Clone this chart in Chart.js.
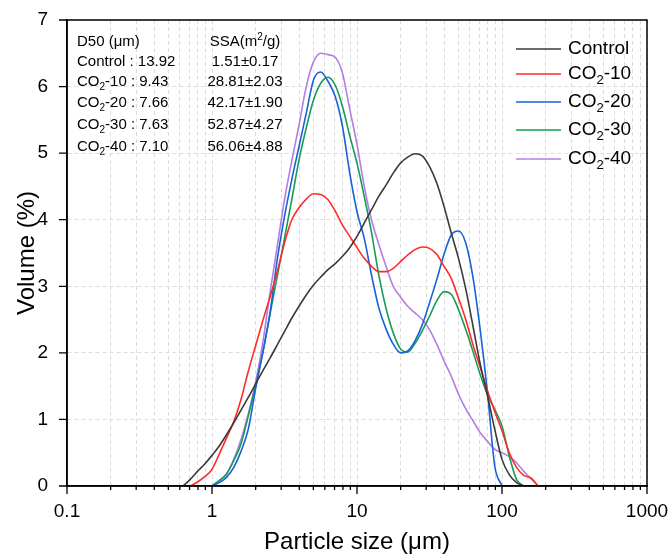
<!DOCTYPE html>
<html>
<head>
<meta charset="utf-8">
<script src="https://cdn.jsdelivr.net/npm/chart.js@4.4.0/dist/chart.umd.min.js"></script>
<style>
html, body { margin: 0; padding: 0; background: #fff; }
#wrap { width: 669px; height: 557px; }
</style>
</head>
<body>
<div id="wrap"><canvas id="psd" width="669" height="557"></canvas></div>
<script>
// particle size bins (um), log spaced
var sizes = [0.631, 0.708, 0.794, 0.891, 1.000, 1.122, 1.259, 1.413, 1.585, 1.778,
  1.995, 2.239, 2.512, 2.818, 3.162, 3.548, 3.981, 4.467, 5.012, 5.623,
  6.310, 7.079, 7.943, 8.913, 10.00, 11.22, 12.59, 14.13, 15.85, 17.78,
  19.95, 22.39, 25.12, 28.18, 31.62, 35.48, 39.81, 44.67, 50.12, 56.23,
  63.10, 70.79, 79.43, 89.13, 100.0, 112.2, 125.9, 141.3, 158.5, 177.8, 199.5];

var control = [0, 0.1, 0.22, 0.33, 0.46, 0.6, 0.77, 0.95, 1.14, 1.33,
  1.53, 1.73, 1.92, 2.12, 2.32, 2.52, 2.7, 2.87, 3.02, 3.14,
  3.25, 3.34, 3.45, 3.58, 3.75, 3.95, 4.15, 4.35, 4.52, 4.7,
  4.85, 4.94, 4.99, 4.96, 4.8, 4.55, 4.2, 3.8, 3.42, 2.96,
  2.4, 1.83, 1.36, 0.85, 0.4, 0.17, 0.05, 0, null, null, null];

var co2_10 = [null, 0, 0.06, 0.14, 0.25, 0.48, 0.72, 0.97, 1.3, 1.72,
  2.1, 2.48, 2.84, 3.22, 3.65, 4.0, 4.18, 4.31, 4.39, 4.38,
  4.3, 4.13, 3.92, 3.75, 3.58, 3.42, 3.3, 3.22, 3.22, 3.27,
  3.37, 3.47, 3.55, 3.59, 3.57, 3.48, 3.3, 3.12, 2.82, 2.5,
  2.12, 1.78, 1.43, 1.12, 0.83, 0.5, 0.28, 0.16, 0.12, 0, null];

var co2_20 = [null, null, null, null, 0, 0.05, 0.13, 0.28, 0.52, 0.85,
  1.45, 2.0, 2.6, 3.4, 4.05, 4.6, 5.1, 5.6, 6.1, 6.22,
  6.08, 5.85, 5.4, 4.7, 4.12, 3.72, 3.17, 2.68, 2.36, 2.13,
  2.0, 2.03, 2.18, 2.42, 2.75, 3.1, 3.48, 3.77, 3.83, 3.65,
  3.13, 2.34, 1.4, 0.3, 0, null, null, null, null, null, null];

var co2_30 = [null, null, null, null, 0, 0.08, 0.18, 0.38, 0.63, 1.05,
  1.5, 2.0, 2.58, 3.15, 3.72, 4.3, 4.9, 5.38, 5.8, 6.05,
  6.14, 6.02, 5.7, 5.26, 4.85, 4.35, 3.81, 3.17, 2.67, 2.3,
  2.06, 2.01, 2.14, 2.33, 2.55, 2.78, 2.92, 2.88, 2.65, 2.35,
  2.02, 1.67, 1.37, 1.15, 0.9, 0.45, 0.1, 0, null, null, null];

var co2_40 = [null, null, null, null, 0, 0.08, 0.18, 0.4, 0.7, 1.08,
  1.55, 2.15, 2.9, 3.6, 4.3, 4.88, 5.42, 6.0, 6.37, 6.5,
  6.48, 6.44, 6.2, 5.66, 5.13, 4.5, 4.0, 3.63, 3.3, 3.0,
  2.84, 2.7, 2.6, 2.5, 2.35, 2.13, 1.88, 1.65, 1.38, 1.16,
  0.98, 0.8, 0.67, 0.55, 0.5, 0.44, 0.35, 0.22, 0.11, 0, null];

var seriesNames = ['Control', 'CO_2-10', 'CO_2-20', 'CO_2-30', 'CO_2-40'];
var seriesColors = ['#3a3a3a', '#ff2a2a', '#1662d6', '#179b55', '#b47de6'];

var d50Values = [13.92, 9.43, 7.66, 7.63, 7.10];
var ssaMean = [1.51, 28.81, 42.17, 52.87, 56.06];
var ssaSd = [0.17, 2.03, 1.90, 4.27, 4.88];

var xLabelValues = [0.1, 1, 10, 100, 1000];
var yTickValues = [0, 1, 2, 3, 4, 5, 6, 7];

// minor grid positions 1..9 per decade
var xGridValues = [];
[0.1, 1, 10, 100].forEach(function (d) {
    for (var k = 1; k <= 9; k++) xGridValues.push(+(k * d).toPrecision(3));
});
xGridValues.push(1000);

var FONT = "'Liberation Sans', Arial, sans-serif";
Chart.defaults.font.family = FONT;
Chart.defaults.color = '#000';

// text with _x subscript and ^x superscript
function richParts(text) {
    var parts = [];
    var buf = '';
    for (var i = 0; i < text.length; i++) {
        var c = text[i];
        if ((c === '_' || c === '^') && i + 1 < text.length) {
            if (buf) parts.push({ t: buf, s: 0 });
            buf = '';
            parts.push({ t: text[i + 1], s: c === '_' ? 1 : -1 });
            i++;
        } else {
            buf += c;
        }
    }
    if (buf) parts.push({ t: buf, s: 0 });
    return parts;
}

function drawRich(ctx, text, x, y, size, align) {
    var parts = richParts(text);
    var small = Math.round(size * 0.68);
    var total = 0;
    parts.forEach(function (p) {
        ctx.font = (p.s ? small : size) + 'px ' + FONT;
        p.w = ctx.measureText(p.t).width;
        total += p.w;
    });
    var cx = align === 'center' ? x - total / 2 : x;
    ctx.textAlign = 'left';
    ctx.textBaseline = 'middle';
    parts.forEach(function (p) {
        ctx.font = (p.s ? small : size) + 'px ' + FONT;
        var dy = p.s === 1 ? size * 0.32 : (p.s === -1 ? -size * 0.32 : 0);
        ctx.fillText(p.t, cx, y + dy);
        cx += p.w;
    });
}

var decor = {
    id: 'decor',
    afterDraw: function (chart) {
        var ctx = chart.ctx;
        var a = chart.chartArea;
        var xs = chart.scales.x, ys = chart.scales.y;
        ctx.save();
        ctx.strokeStyle = '#000';
        ctx.fillStyle = '#000';
        ctx.lineWidth = 1.5;
        ctx.strokeRect(a.left, a.top, a.right - a.left, a.bottom - a.top);

        // outward tick marks
        ctx.lineWidth = 1.3;
        ctx.beginPath();
        xGridValues.forEach(function (v) {
            var px = xs.getPixelForValue(v);
            var len = xLabelValues.indexOf(v) >= 0 ? 8 : 4;
            ctx.moveTo(px, a.bottom);
            ctx.lineTo(px, a.bottom + len);
        });
        yTickValues.forEach(function (v) {
            var py = ys.getPixelForValue(v);
            ctx.moveTo(a.left, py);
            ctx.lineTo(a.left - 8, py);
        });
        ctx.stroke();

        // legend
        var legendRows = [29, 54, 82, 110, 139];
        chart.data.datasets.forEach(function (ds, i) {
            var y = a.top + legendRows[i];
            ctx.strokeStyle = ds.borderColor;
            ctx.lineWidth = 1.6;
            ctx.beginPath();
            ctx.moveTo(a.right - 131, y);
            ctx.lineTo(a.right - 86, y);
            ctx.stroke();
            ctx.fillStyle = '#000';
            drawRich(ctx, seriesNames[i], a.right - 79, y, 19, 'left');
        });

        // D50 / SSA table
        var rows = [22, 42, 62, 83, 105, 127];
        drawRich(ctx, 'D50 (\u03bcm)', a.left + 10, a.top + rows[0], 15, 'left');
        drawRich(ctx, 'SSA(m^2/g)', a.left + 178, a.top + rows[0], 15, 'center');
        for (var i = 0; i < d50Values.length; i++) {
            drawRich(ctx, seriesNames[i] + ' : ' + d50Values[i].toFixed(2), a.left + 10, a.top + rows[i + 1], 15, 'left');
            drawRich(ctx, ssaMean[i].toFixed(2) + '\u00b1' + ssaSd[i].toFixed(2), a.left + 178, a.top + rows[i + 1], 15, 'center');
        }
        ctx.restore();
    }
};

var datasets = [control, co2_10, co2_20, co2_30, co2_40].map(function (vals, i) {
    return {
        label: seriesNames[i].replace('_', ''),
        data: vals,
        borderColor: seriesColors[i],
        backgroundColor: seriesColors[i],
        borderWidth: 1.6,
        pointRadius: 0,
        fill: false,
        tension: 0.3,
        cubicInterpolationMode: 'monotone',
        spanGaps: false
    };
});

var psdChart = new Chart(document.getElementById('psd'), {
    type: 'line',
    data: { labels: sizes, datasets: datasets },
    options: {
        responsive: false,
        animation: false,
        devicePixelRatio: 1,
        layout: { padding: { top: 20, right: 22, left: 0, bottom: 0 } },
        plugins: { legend: { display: false }, tooltip: { enabled: false } },
        scales: {
            x: {
                type: 'logarithmic',
                min: 0.1,
                max: 1000,
                afterBuildTicks: function (scale) {
                    scale.ticks = xGridValues.map(function (v) {
                        return { value: v, major: xLabelValues.indexOf(v) >= 0 };
                    });
                },
                afterFit: function (scale) {
                    scale.height = 71;
                    scale.paddingLeft = 0;
                    scale.paddingRight = 0;
                },
                ticks: {
                    autoSkip: false,
                    maxRotation: 0,
                    padding: 14,
                    font: { size: 19 },
                    callback: function (value) {
                        return xLabelValues.indexOf(value) >= 0 ? String(value) : '';
                    }
                },
                grid: { color: '#dcdcdc', lineWidth: 1, drawTicks: false },
                border: { display: true, color: '#000', width: 1.5, dash: [4, 3] },
                title: { display: true, text: 'Particle size (\u03bcm)', font: { size: 24 }, padding: { top: 0, bottom: 0 } }
            },
            y: {
                type: 'linear',
                min: 0,
                max: 7,
                afterFit: function (scale) {
                    scale.width = 67;
                    scale.paddingTop = 0;
                    scale.paddingBottom = 0;
                },
                ticks: { stepSize: 1, padding: 19, font: { size: 19 } },
                grid: { color: '#dcdcdc', lineWidth: 1, drawTicks: false },
                border: { display: true, color: '#000', width: 1.5, dash: [4, 3] },
                title: { display: true, text: 'Volume (%)', font: { size: 24 }, padding: { top: 13, bottom: 0 } }
            }
        }
    },
    plugins: [decor]
});
</script>
</body>
</html>
